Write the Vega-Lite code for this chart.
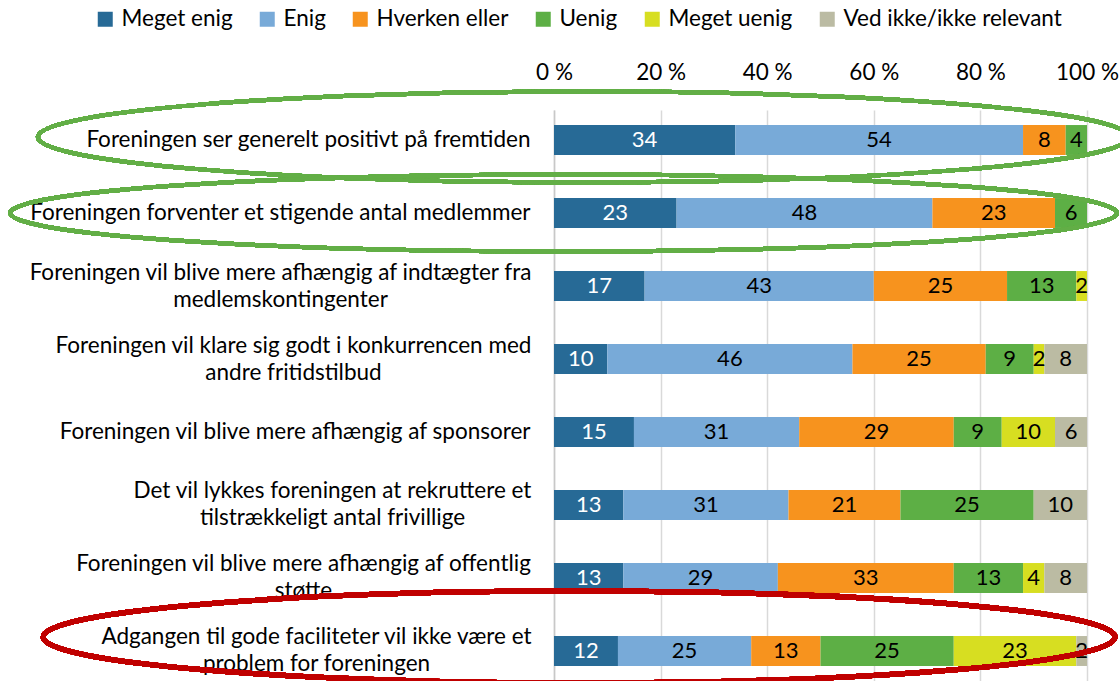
{
  "$schema": "https://vega.github.io/schema/vega-lite/v6.json",
  "autosize": "none",
  "width": 533,
  "height": 571,
  "padding": {"left": 554, "top": 110, "right": 33, "bottom": 0},
  "background": "white",
  "config": {"font": "Lato", "view": {"stroke": null}},
  "datasets": {
    "survey": [
      {"q": "Foreningen ser generelt positivt på fremtiden", "resp": "Meget enig", "o": 1, "v": 34},
      {"q": "Foreningen ser generelt positivt på fremtiden", "resp": "Enig", "o": 2, "v": 54},
      {"q": "Foreningen ser generelt positivt på fremtiden", "resp": "Hverken eller", "o": 3, "v": 8},
      {"q": "Foreningen ser generelt positivt på fremtiden", "resp": "Uenig", "o": 4, "v": 4},
      {"q": "Foreningen forventer et stigende antal medlemmer", "resp": "Meget enig", "o": 1, "v": 23},
      {"q": "Foreningen forventer et stigende antal medlemmer", "resp": "Enig", "o": 2, "v": 48},
      {"q": "Foreningen forventer et stigende antal medlemmer", "resp": "Hverken eller", "o": 3, "v": 23},
      {"q": "Foreningen forventer et stigende antal medlemmer", "resp": "Uenig", "o": 4, "v": 6},
      {"q": "Foreningen vil blive mere afhængig af indtægter fra|medlemskontingenter", "resp": "Meget enig", "o": 1, "v": 17},
      {"q": "Foreningen vil blive mere afhængig af indtægter fra|medlemskontingenter", "resp": "Enig", "o": 2, "v": 43},
      {"q": "Foreningen vil blive mere afhængig af indtægter fra|medlemskontingenter", "resp": "Hverken eller", "o": 3, "v": 25},
      {"q": "Foreningen vil blive mere afhængig af indtægter fra|medlemskontingenter", "resp": "Uenig", "o": 4, "v": 13},
      {"q": "Foreningen vil blive mere afhængig af indtægter fra|medlemskontingenter", "resp": "Meget uenig", "o": 5, "v": 2},
      {"q": "Foreningen vil klare sig godt i konkurrencen med|andre fritidstilbud", "resp": "Meget enig", "o": 1, "v": 10},
      {"q": "Foreningen vil klare sig godt i konkurrencen med|andre fritidstilbud", "resp": "Enig", "o": 2, "v": 46},
      {"q": "Foreningen vil klare sig godt i konkurrencen med|andre fritidstilbud", "resp": "Hverken eller", "o": 3, "v": 25},
      {"q": "Foreningen vil klare sig godt i konkurrencen med|andre fritidstilbud", "resp": "Uenig", "o": 4, "v": 9},
      {"q": "Foreningen vil klare sig godt i konkurrencen med|andre fritidstilbud", "resp": "Meget uenig", "o": 5, "v": 2},
      {"q": "Foreningen vil klare sig godt i konkurrencen med|andre fritidstilbud", "resp": "Ved ikke/ikke relevant", "o": 6, "v": 8},
      {"q": "Foreningen vil blive mere afhængig af sponsorer", "resp": "Meget enig", "o": 1, "v": 15},
      {"q": "Foreningen vil blive mere afhængig af sponsorer", "resp": "Enig", "o": 2, "v": 31},
      {"q": "Foreningen vil blive mere afhængig af sponsorer", "resp": "Hverken eller", "o": 3, "v": 29},
      {"q": "Foreningen vil blive mere afhængig af sponsorer", "resp": "Uenig", "o": 4, "v": 9},
      {"q": "Foreningen vil blive mere afhængig af sponsorer", "resp": "Meget uenig", "o": 5, "v": 10},
      {"q": "Foreningen vil blive mere afhængig af sponsorer", "resp": "Ved ikke/ikke relevant", "o": 6, "v": 6},
      {"q": "Det vil lykkes foreningen at rekruttere et|tilstrækkeligt antal frivillige", "resp": "Meget enig", "o": 1, "v": 13},
      {"q": "Det vil lykkes foreningen at rekruttere et|tilstrækkeligt antal frivillige", "resp": "Enig", "o": 2, "v": 31},
      {"q": "Det vil lykkes foreningen at rekruttere et|tilstrækkeligt antal frivillige", "resp": "Hverken eller", "o": 3, "v": 21},
      {"q": "Det vil lykkes foreningen at rekruttere et|tilstrækkeligt antal frivillige", "resp": "Uenig", "o": 4, "v": 25},
      {"q": "Det vil lykkes foreningen at rekruttere et|tilstrækkeligt antal frivillige", "resp": "Ved ikke/ikke relevant", "o": 6, "v": 10},
      {"q": "Foreningen vil blive mere afhængig af offentlig|støtte", "resp": "Meget enig", "o": 1, "v": 13},
      {"q": "Foreningen vil blive mere afhængig af offentlig|støtte", "resp": "Enig", "o": 2, "v": 29},
      {"q": "Foreningen vil blive mere afhængig af offentlig|støtte", "resp": "Hverken eller", "o": 3, "v": 33},
      {"q": "Foreningen vil blive mere afhængig af offentlig|støtte", "resp": "Uenig", "o": 4, "v": 13},
      {"q": "Foreningen vil blive mere afhængig af offentlig|støtte", "resp": "Meget uenig", "o": 5, "v": 4},
      {"q": "Foreningen vil blive mere afhængig af offentlig|støtte", "resp": "Ved ikke/ikke relevant", "o": 6, "v": 8},
      {"q": "Adgangen til gode faciliteter vil ikke være et|problem for foreningen", "resp": "Meget enig", "o": 1, "v": 12},
      {"q": "Adgangen til gode faciliteter vil ikke være et|problem for foreningen", "resp": "Enig", "o": 2, "v": 25},
      {"q": "Adgangen til gode faciliteter vil ikke være et|problem for foreningen", "resp": "Hverken eller", "o": 3, "v": 13},
      {"q": "Adgangen til gode faciliteter vil ikke være et|problem for foreningen", "resp": "Uenig", "o": 4, "v": 25},
      {"q": "Adgangen til gode faciliteter vil ikke være et|problem for foreningen", "resp": "Meget uenig", "o": 5, "v": 23},
      {"q": "Adgangen til gode faciliteter vil ikke være et|problem for foreningen", "resp": "Ved ikke/ikke relevant", "o": 6, "v": 2}
    ]
  },
  "data": {"name": "survey"},
  "layer": [
    {
      "mark": {"type": "bar"},
      "encoding": {
        "y": {
          "field": "q", "type": "nominal", "sort": null,
          "scale": {"paddingInner": 0.59, "paddingOuter": 0.206},
          "axis": {
            "title": null, "orient": "left", "domain": true, "domainColor": "#c8c8c8", "domainWidth": 1.5,
            "ticks": false, "tickSize": 0, "labelFontSize": 22.5, "labelColor": "#000000",
            "labelLimit": 1000, "labelLineHeight": 27,
            "labelExpr": "split(datum.value, '|')",
            "labelAlign": {"expr": "indexof(datum.value, '|') >= 0 ? 'center' : 'right'"},
            "labelOffset": {"expr": "indexof(datum.value, '|') >= 0 ? -13.5 : 0"},
            "labelPadding": {"expr": "24 + (indexof(datum.value, 'medlemskontingenter') >= 0 ? 250 : indexof(datum.value, 'fritidstilbud') >= 0 ? 237 : indexof(datum.value, 'frivillige') >= 0 ? 198 : indexof(datum.value, 'støtte') >= 0 ? 227 : indexof(datum.value, 'problem for') >= 0 ? 214 : 0)"}
          }
        },
        "x": {
          "field": "v", "type": "quantitative", "stack": "zero",
          "scale": {"domain": [0, 100]},
          "axis": {
            "title": null, "orient": "top", "values": [0, 20, 40, 60, 80, 100],
            "labelExpr": "datum.value + ' %'", "domain": false, "ticks": false, "tickSize": 0,
            "grid": true, "gridColor": "#d9d9d9", "gridWidth": 1.5,
            "labelFontSize": 22.5, "labelColor": "#000000", "labelPadding": 26, "labelFlush": false
          }
        },
        "color": {
          "field": "resp", "type": "nominal",
          "scale": {
            "domain": ["Meget enig", "Enig", "Hverken eller", "Uenig", "Meget uenig", "Ved ikke/ikke relevant"],
            "range": ["#276a96", "#78aad8", "#f7931e", "#5daf45", "#d7de21", "#bbbba3"]
          },
          "legend": {
            "title": null, "orient": "none", "legendX": -460, "legendY": -102, "direction": "horizontal",
            "columns": 6, "gridAlign": "none", "symbolType": "square", "symbolSize": 225, "symbolStrokeWidth": 0,
            "labelFontSize": 22.5, "labelColor": "#000000", "columnPadding": 23, "labelOffset": 5, "labelLimit": 400
          }
        },
        "order": {"field": "o"}
      }
    },
    {
      "transform": [
        {"stack": "v", "groupby": ["q"], "sort": [{"field": "o"}], "as": ["x0", "x1"]},
        {"calculate": "(datum.x0 + datum.x1) / 2", "as": "mid"}
      ],
      "mark": {"type": "text", "fontSize": 22, "baseline": "middle", "align": "center"},
      "encoding": {
        "y": {"field": "q", "type": "nominal", "sort": null},
        "x": {"field": "mid", "type": "quantitative"},
        "text": {"field": "v", "type": "quantitative"},
        "color": {"condition": {"test": "datum.resp === 'Meget enig'", "value": "#ffffff"}, "value": "#000000"}
      }
    },
    {
      "mark": {"type": "point", "filled": false, "shape": "M-1,0C-1,-0.046,-0.5523,-0.0833,0,-0.0833C0.5523,-0.0833,1,-0.046,1,0C1,0.046,0.5523,0.0833,0,0.0833C-0.5523,0.0833,-1,0.046,-1,0Z", "size": 1190000, "stroke": "#62ae46", "strokeWidth": 4, "opacity": 1, "yOffset": -3},
      "encoding": {
        "y": {"datum": "Foreningen ser generelt positivt på fremtiden", "type": "nominal"},
        "x": {"datum": 5.5, "type": "quantitative"}
      }
    },
    {
      "mark": {"type": "point", "filled": false, "shape": "M-1,0C-1,-0.0384,-0.5523,-0.0696,0,-0.0696C0.5523,-0.0696,1,-0.0384,1,0C1,0.0384,0.5523,0.0696,0,0.0696C-0.5523,0.0696,-1,0.0384,-1,0Z", "size": 1225000, "stroke": "#62ae46", "strokeWidth": 4, "opacity": 1},
      "encoding": {
        "y": {"datum": "Foreningen forventer et stigende antal medlemmer", "type": "nominal"},
        "x": {"datum": 1.8, "type": "quantitative"}
      }
    },
    {
      "mark": {"type": "point", "filled": false, "shape": "M-1,0C-1,-0.0474,-0.5523,-0.0858,0,-0.0858C0.5523,-0.0858,1,-0.0474,1,0C1,0.0474,0.5523,0.0858,0,0.0858C-0.5523,0.0858,-1,0.0474,-1,0Z", "size": 1149000, "stroke": "#c00000", "strokeWidth": 5, "opacity": 1, "yOffset": -14},
      "encoding": {
        "y": {"datum": "Adgangen til gode faciliteter vil ikke være et|problem for foreningen", "type": "nominal"},
        "x": {"datum": 4.7, "type": "quantitative"}
      }
    }
  ]
}
